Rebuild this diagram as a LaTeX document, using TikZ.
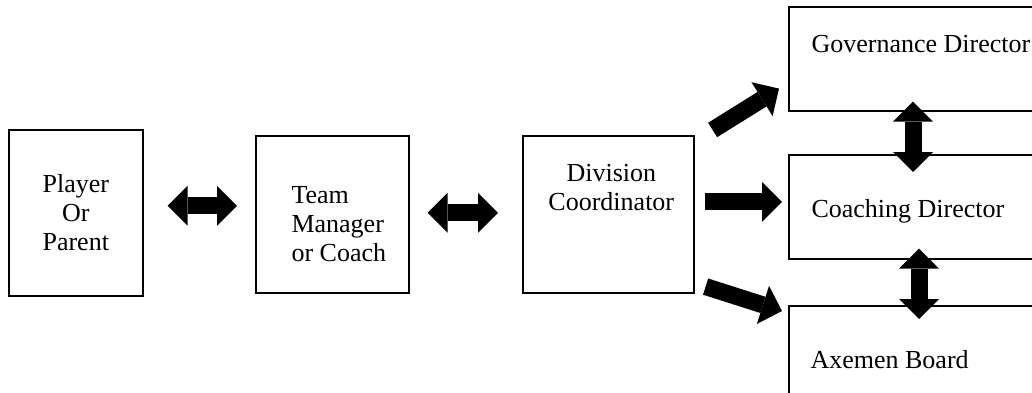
\documentclass[tikz,border=0pt]{standalone}
\usepackage{fontspec}
\setmainfont{Liberation Serif}
\usetikzlibrary{arrows.meta}

\tikzset{
    box/.style={draw, line width=1.6pt, inner sep=0pt, anchor=north west},
    fat/.style={line width=17pt, >={Triangle[width=40pt, length=20pt, line width=0pt]}}
}

\begin{document}
\begin{tikzpicture}[x=1pt, y=-1pt, font=\fontsize{26}{29}\selectfont]
    \useasboundingbox (0,0) rectangle (1032,393);
    \clip (0,0) rectangle (1032,393);

    % boxes
    \node[box, minimum width=134pt, minimum height=166pt] (player) at (8,129) {};
    \node[box, minimum width=153pt, minimum height=157pt] (team) at (255,135) {};
    \node[box, minimum width=171pt, minimum height=157pt] (division) at (522,135) {};
    \node[box, minimum width=260pt, minimum height=104pt] (gov) at (788,6) {};
    \node[box, minimum width=260pt, minimum height=104pt] (coach) at (788,154) {};
    \node[box, minimum width=260pt, minimum height=120pt] (axemen) at (788,305) {};

    % texts
    \node[align=center] (playertext) at (player) {Player\\Or\\Parent};
    \node[align=left, anchor=west] (teamtext) at ([shift={(33,10)}]team.west) {Team\\Manager\\or Coach};
    \node[align=center] (divisiontext) at ([shift={(3,53)}]division.north) {Division\\Coordinator};
    \node[anchor=base west] (govtext) at ([shift={(20,47)}]gov.north west) {Governance Director};
    \node[anchor=base west] (coachtext) at ([shift={(20,63)}]coach.north west) {Coaching Director};
    \node[anchor=base west] (axementext) at ([shift={(19,63)}]axemen.north west) {Axemen Board};

    % block arrows
    \draw[fat, <->] ([shift={(24,-7)}]player.east) -- ([shift={(-18,-8.5)}]team.west);
    \draw[fat, <->] ([shift={(18,-1.5)}]team.east) -- ([shift={(-24,-1.5)}]division.west);
    \draw[fat, ->] ([shift={(10,-12.5)}]division.east) -- ([shift={(-6,-5)}]coach.west);
    \draw[fat, ->] ([shift={(18,-5)}]division.north east) -- ([shift={(-9,-23)}]gov.south west);
    \draw[fat, ->] ([shift={(11,-7)}]division.south east) -- ([shift={(-6,6)}]axemen.north west);
    \draw[fat, <->] ([shift={(125,-10)}]gov.south west) -- ([shift={(125,18)}]coach.north west);
    \draw[fat, <->] ([shift={(131,-11)}]coach.south west) -- ([shift={(131,14)}]axemen.north west);

\end{tikzpicture}
\end{document}
